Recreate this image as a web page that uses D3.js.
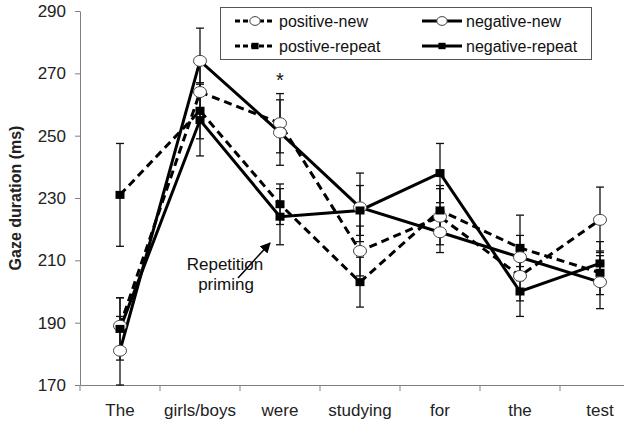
<!DOCTYPE html>
<html>
<head>
<meta charset="utf-8">
<script src="https://cdn.jsdelivr.net/npm/d3@7/dist/d3.min.js"></script>
<style>
  body { margin: 0; background: #fff; }
  svg { display: block; font-family: "Liberation Sans", Arial, sans-serif; }
</style>
</head>
<body>
<div id="chart"></div>
<script>
// words of the sentence
var categories = ['The', 'girls/boys', 'were', 'studying', 'for', 'the', 'test'];
var yTicks = [170, 190, 210, 230, 250, 270, 290];

// mean gaze durations (ms)
var positiveNew    = [189, 264, 254, 213, 224, 205, 223];
var postiveRepeat  = [231, 258, 228, 203, 226, 214, 206];
var negativeNew    = [181, 274, 251, 227, 219, 211, 203];
var negativeRepeat = [188, 255, 224, 226, 238, 200, 209];

// error bar half-lengths (ms)
var positiveNewErr    = [9, 10, 9.5, 8, 9, 8, 10.5];
var postiveRepeatErr  = [16.5, 9, 6.5, 8, 8, 10.5, 7];
var negativeNewErr    = [11, 10.5, 10.5, 11, 6.5, 7, 8.5];
var negativeRepeatErr = [10, 11.5, 9, 8, 9.5, 8, 7];

var seriesNames = ['positive-new', 'negative-new', 'postive-repeat', 'negative-repeat'];

var series = [
  { name: seriesNames[0], values: positiveNew, err: positiveNewErr, dashed: true, marker: 'circle' },
  { name: seriesNames[2], values: postiveRepeat, err: postiveRepeatErr, dashed: true, marker: 'square' },
  { name: seriesNames[1], values: negativeNew, err: negativeNewErr, dashed: false, marker: 'circle' },
  { name: seriesNames[3], values: negativeRepeat, err: negativeRepeatErr, dashed: false, marker: 'square' }
];

var width = 624, height = 423;
var axisColor = '#808080';

var svg = d3.select('#chart').append('svg')
  .attr('width', width)
  .attr('height', height);

var x = d3.scaleBand().domain(categories).range([80, 640]);
var y = d3.scaleLinear().domain([170, 290]).range([385, 11]);
var cx = function(i){ return x(categories[i]) + x.bandwidth()/2; };

// y axis
var yAxis = svg.append('g')
  .attr('transform', 'translate(80,0)')
  .call(d3.axisLeft(y).tickValues(yTicks).tickSize(5).tickPadding(9).tickSizeOuter(0));
yAxis.selectAll('path, line').attr('stroke', axisColor);
yAxis.selectAll('text')
  .attr('font-size', 17)
  .attr('font-family', '"Liberation Sans", Arial, sans-serif')
  .attr('fill', '#222');

// x axis (labels centred in bands, ticks on band edges)
var xAxis = svg.append('g')
  .attr('transform', 'translate(0,385)')
  .call(d3.axisBottom(x).tickSize(0).tickPadding(19).tickSizeOuter(0));
xAxis.select('path').attr('stroke', axisColor);
xAxis.selectAll('text')
  .attr('font-size', 17)
  .attr('font-family', '"Liberation Sans", Arial, sans-serif')
  .attr('fill', '#222');
xAxis.selectAll('.edge')
  .data(categories)
  .enter().append('line')
  .attr('x1', function(d){ return x(d); })
  .attr('x2', function(d){ return x(d); })
  .attr('y1', 0)
  .attr('y2', 6)
  .attr('stroke', axisColor);

// y axis title
svg.append('text')
  .attr('transform', 'translate(21,198) rotate(-90)')
  .attr('text-anchor', 'middle')
  .attr('font-size', 16)
  .attr('font-weight', 'bold')
  .attr('fill', '#222')
  .text('Gaze duration (ms)');

// error bars
var errG = svg.append('g').attr('class', 'errors');
series.forEach(function(s){
  s.values.forEach(function(v, i){
    var px = cx(i);
    var top = y(v + s.err[i]), bot = y(v - s.err[i]);
    errG.append('line')
      .attr('x1', px).attr('x2', px)
      .attr('y1', top).attr('y2', bot)
      .attr('stroke', '#111').attr('stroke-width', 1.3);
    [top, bot].forEach(function(cy){
      errG.append('line')
        .attr('x1', px - 4).attr('x2', px + 4)
        .attr('y1', cy).attr('y2', cy)
        .attr('stroke', '#111').attr('stroke-width', 1.3);
    });
  });
});

// lines
var line = d3.line()
  .x(function(d, i){ return cx(i); })
  .y(function(d){ return y(d); });

series.forEach(function(s){
  svg.append('path')
    .datum(s.values)
    .attr('d', line)
    .attr('fill', 'none')
    .attr('stroke', '#000')
    .attr('stroke-width', 3)
    .attr('stroke-dasharray', s.dashed ? '8,5' : null);
});

// markers
function drawMarker(g, type, px, py, k){
  k = k || 1;
  if(type === 'circle'){
    g.append('ellipse')
      .attr('cx', px).attr('cy', py)
      .attr('rx', 6.5*k).attr('ry', 5.5*k)
      .attr('fill', '#fff')
      .attr('stroke', '#444')
      .attr('stroke-width', 1);
  } else {
    g.append('rect')
      .attr('x', px - 4.5*k).attr('y', py - 4*k)
      .attr('width', 9*k).attr('height', 8*k)
      .attr('fill', '#000');
  }
}

var markG = svg.append('g').attr('class', 'markers');
series.forEach(function(s){
  s.values.forEach(function(v, i){
    drawMarker(markG, s.marker, cx(i), y(v));
  });
});

// significance star
svg.append('text')
  .attr('x', cx(2)).attr('y', y(258) - 24)
  .attr('text-anchor', 'middle')
  .attr('font-size', 20)
  .attr('fill', '#111')
  .text('*');

// annotation
svg.append('defs').append('marker')
  .attr('id', 'arrow')
  .attr('viewBox', '0 0 10 10')
  .attr('refX', 9).attr('refY', 5)
  .attr('markerWidth', 7).attr('markerHeight', 7)
  .attr('orient', 'auto')
  .append('path')
  .attr('d', 'M0,0 L10,5 L0,10 z')
  .attr('fill', '#000');

svg.append('line')
  .attr('x1', 238).attr('y1', 278)
  .attr('x2', 270).attr('y2', 243)
  .attr('stroke', '#000').attr('stroke-width', 1.5)
  .attr('marker-end', 'url(#arrow)');

svg.append('text')
  .attr('x', 225).attr('y', 270)
  .attr('text-anchor', 'middle')
  .attr('font-size', 17)
  .attr('fill', '#111')
  .text('Repetition');
svg.append('text')
  .attr('x', 226).attr('y', 290)
  .attr('text-anchor', 'middle')
  .attr('font-size', 17)
  .attr('fill', '#111')
  .text('priming');

// legend
var legend = svg.append('g').attr('class', 'legend');
legend.append('rect')
  .attr('x', 220.5).attr('y', 7.5)
  .attr('width', 371).attr('height', 52)
  .attr('fill', '#fff')
  .attr('stroke', '#555')
  .attr('stroke-width', 1);

var legendItems = [
  { s: series[0], x: 235, y: 21 },
  { s: series[2], x: 422, y: 21 },
  { s: series[1], x: 235, y: 46 },
  { s: series[3], x: 422, y: 46 }
];
legendItems.forEach(function(item){
  legend.append('line')
    .attr('x1', item.x).attr('x2', item.x + 40)
    .attr('y1', item.y).attr('y2', item.y)
    .attr('stroke', '#000')
    .attr('stroke-width', 3)
    .attr('stroke-dasharray', item.s.dashed ? '5,3' : null);
  drawMarker(legend, item.s.marker, item.x + 20, item.y, 0.8);
  legend.append('text')
    .attr('x', item.x + 44).attr('y', item.y + 6)
    .attr('font-size', 16)
    .attr('fill', '#111')
    .text(item.s.name);
});
</script>
</body>
</html>
